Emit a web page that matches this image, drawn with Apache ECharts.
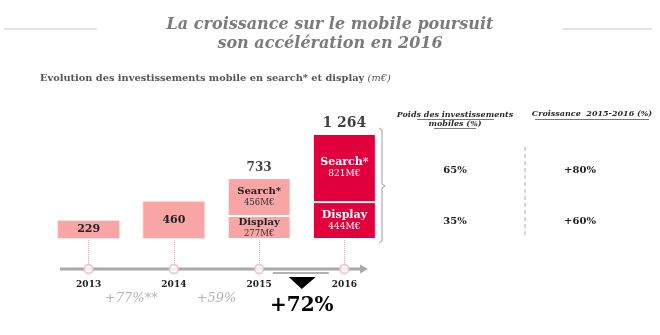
<!DOCTYPE html>
<html>
<head>
<meta charset="utf-8">
<script src="https://cdn.jsdelivr.net/npm/echarts@6/dist/echarts.min.js"></script>
<style>
  html, body { margin: 0; padding: 0; background: #fff; }
  #chart { width: 660px; height: 335px; }
</style>
</head>
<body>
<div id="chart"></div>
<script>
// Mobile investment (M€) by year, split search / display where available
const years = ['2013', '2014', '2015', '2016'];
const totalOnly = [229, 460, null, null];
const displayValues = [null, null, 277, 444];
const searchValues = [null, null, 456, 821];
const totals = [229, 460, 733, 1264];
const yearGrowth = ['+77%**', '+59%', '+72%'];
const shareLabels = ['65%', '35%'];
const growthLabels = ['+80%', '+60%'];

const SERIF = '"DejaVu Serif", "Liberation Serif", serif';
const PINK = '#f9a5a6';
const CRIMSON = '#e2003c';

function fmt(n) {
  return String(n).replace(/\B(?=(\d{3})+(?!\d))/g, ' ');
}

function segLabel(name, v, i) {
  const dark = i < 3;
  return {
    show: true,
    position: 'inside',
    formatter: '{n|' + name + '}\n{v|' + v + 'M€}',
    rich: {
      n: { fontFamily: SERIF, fontWeight: 'bold', fontSize: i < 3 ? 10 : 11, color: dark ? '#222' : '#fff', lineHeight: 12 },
      v: { fontFamily: SERIF, fontSize: i < 3 ? 8.5 : 9, color: dark ? '#333' : '#fff', lineHeight: 11 }
    }
  };
}

function segData(values, name) {
  return values.map((v, i) => v == null ? '-' : {
    value: v,
    itemStyle: { color: i < 3 ? PINK : CRIMSON },
    label: segLabel(name, v, i)
  });
}

const chart = echarts.init(document.getElementById('chart'), null, { renderer: 'canvas' });

chart.setOption({
  animation: false,
  grid: [
    { left: 46, right: 273, top: 134, bottom: 96 },
    { left: 46, right: 273, top: 239, height: 30 }
  ],
  xAxis: [
    { type: 'category', gridIndex: 0, data: years, show: false },
    {
      type: 'category', gridIndex: 1, data: years,
      axisLine: { show: false },
      axisTick: { show: true, inside: true, length: 30, alignWithLabel: true,
        lineStyle: { color: '#d9b8bc', type: 'dotted', width: 1 } },
      axisLabel: { margin: 11, fontFamily: SERIF, fontWeight: 'bold', fontSize: 9, color: '#222' }
    }
  ],
  yAxis: [
    { type: 'value', gridIndex: 0, min: 0, max: 1264, show: false },
    { type: 'value', gridIndex: 1, min: 0, max: 1, show: false }
  ],
  series: [
    {
      type: 'bar', name: 'Total', stack: 'v', barWidth: 63,
      xAxisIndex: 0, yAxisIndex: 0,
      itemStyle: { color: PINK, borderColor: '#fde3e3', borderWidth: 1 },
      label: { show: true, position: 'inside', fontFamily: SERIF, fontWeight: 'bold', fontSize: 11, color: '#222' },
      data: totalOnly.map(v => v == null ? '-' : v)
    },
    {
      type: 'bar', name: 'Display', stack: 'v', barWidth: 63,
      xAxisIndex: 0, yAxisIndex: 0,
      itemStyle: { borderColor: '#fff', borderWidth: 1 },
      data: segData(displayValues, 'Display')
    },
    {
      type: 'bar', name: 'Search*', stack: 'v', barWidth: 63,
      xAxisIndex: 0, yAxisIndex: 0,
      itemStyle: { borderColor: '#fff', borderWidth: 1 },
      data: segData(searchValues, 'Search*')
    },
    {
      type: 'scatter', name: 'Totaux', xAxisIndex: 0, yAxisIndex: 0,
      symbolSize: 0,
      label: {
        show: true, position: 'top', distance: 4,
        fontFamily: SERIF, fontWeight: 'bold', color: '#111',
        formatter: p => fmt(p.value)
      },
      data: totals.map((v, i) => i < 2 ? '-' : { value: v, label: { fontSize: i === 3 ? 14 : 12 } })
    },
    {
      type: 'scatter', name: 'Années', xAxisIndex: 1, yAxisIndex: 1,
      symbol: 'circle', symbolSize: 9, z: 5,
      itemStyle: { color: '#fff', borderColor: '#f3b6bf', borderWidth: 1.8 },
      data: years.map(() => 0)
    }
  ]
});

// annotations positioned from the axes
const cx = years.map((y, i) => chart.convertToPixel({ xAxisIndex: 1 }, i));
const axisY = chart.convertToPixel({ yAxisIndex: 1 }, 0);
const mids = yearGrowth.map((g, i) => (cx[i] + cx[i + 1]) / 2);

const graphics = [
  // title
  { type: 'text', left: 'center', top: 15, style: {
      text: 'La croissance sur le mobile poursuit\nson accélération en 2016',
      fontFamily: SERIF, fontStyle: 'italic', fontWeight: 'bold', fontSize: 16,
      lineHeight: 19, fill: '#7b7b7b', textAlign: 'center' } },
  { type: 'line', shape: { x1: 4, y1: 29, x2: 97, y2: 29 }, style: { stroke: '#e3e3e3', lineWidth: 2 } },
  { type: 'line', shape: { x1: 563, y1: 29, x2: 652, y2: 29 }, style: { stroke: '#e3e3e3', lineWidth: 2 } },
  // subtitle
  { type: 'text', left: 40, top: 73, style: {
      text: '{b|Evolution des investissements mobile en search* et display }{i|(m€)}',
      rich: {
        b: { fontFamily: SERIF, fontWeight: 'bold', fontSize: 9.8, fill: '#555' },
        i: { fontFamily: SERIF, fontStyle: 'italic', fontSize: 9.8, fill: '#555' }
      } } },
  // timeline with arrow
  { type: 'line', z: 1, shape: { x1: 60, y1: axisY, x2: 362, y2: axisY }, style: { stroke: '#a9a9a9', lineWidth: 3 } },
  { type: 'polygon', z: 1, shape: { points: [[360, axisY - 4.5], [368, axisY], [360, axisY + 4.5]] }, style: { fill: '#a9a9a9' } },
  // focus marker on the last period
  { type: 'line', shape: { x1: mids[2] - 29, y1: axisY + 4, x2: mids[2] + 27, y2: axisY + 4 }, style: { stroke: '#9a9a9a', lineWidth: 1.5 } },
  { type: 'polygon', shape: { points: [[mids[2] - 13, axisY + 8], [mids[2] + 14, axisY + 8], [mids[2], axisY + 20]] }, style: { fill: '#000' } },
  // right-side bracket
  { type: 'polyline', shape: { points: [[379, 128], [382, 130], [382, 184], [385, 186], [382, 188], [382, 241], [379, 243]] },
    style: { stroke: '#9a9a9a', lineWidth: 1, fill: null } },
  // table headers
  { type: 'text', x: 455, y: 110, style: {
      text: 'Poids des investissements\nmobiles (%)', textAlign: 'center', lineHeight: 9,
      fontFamily: SERIF, fontStyle: 'italic', fontWeight: 'bold', fontSize: 8, fill: '#2a2a2a' } },
  { type: 'text', x: 592, y: 110, style: {
      text: 'Croissance  2015-2016 (%)', textAlign: 'center',
      fontFamily: SERIF, fontStyle: 'italic', fontWeight: 'bold', fontSize: 8, fill: '#2a2a2a' } },
  { type: 'line', shape: { x1: 417, y1: 119.5, x2: 494, y2: 119.5 }, style: { stroke: '#555', lineWidth: 0.8 } },
  { type: 'line', shape: { x1: 434, y1: 128.5, x2: 476, y2: 128.5 }, style: { stroke: '#555', lineWidth: 0.8 } },
  { type: 'line', shape: { x1: 535, y1: 119.5, x2: 649, y2: 119.5 }, style: { stroke: '#555', lineWidth: 0.8 } },
  // dashed separator
  { type: 'line', shape: { x1: 525, y1: 147, x2: 525, y2: 238 }, style: { stroke: '#aaa', lineWidth: 1, lineDash: [4, 3] } }
];

// table values
const rowY = [170, 221];
shareLabels.forEach((t, i) => graphics.push({ type: 'text', x: 455, y: rowY[i], style: {
  text: t, textAlign: 'center', textVerticalAlign: 'middle',
  fontFamily: SERIF, fontWeight: 'bold', fontSize: 10, fill: '#222' } }));
growthLabels.forEach((t, i) => graphics.push({ type: 'text', x: 580, y: rowY[i], style: {
  text: t, textAlign: 'center', textVerticalAlign: 'middle',
  fontFamily: SERIF, fontWeight: 'bold', fontSize: 10, fill: '#222' } }));

// year-over-year growth between timeline points
yearGrowth.forEach((g, i) => {
  const last = i === yearGrowth.length - 1;
  graphics.push({ type: 'text', x: mids[i], y: last ? axisY + 37 : axisY + 30, style: {
    text: g, textAlign: 'center', textVerticalAlign: 'middle',
    fontFamily: SERIF, fontStyle: last ? 'normal' : 'italic', fontWeight: last ? 'bold' : 'normal',
    fontSize: last ? 20 : 13, fill: last ? '#000' : '#b5b5b5' } });
});

chart.setOption({ graphic: graphics });
</script>
</body>
</html>
